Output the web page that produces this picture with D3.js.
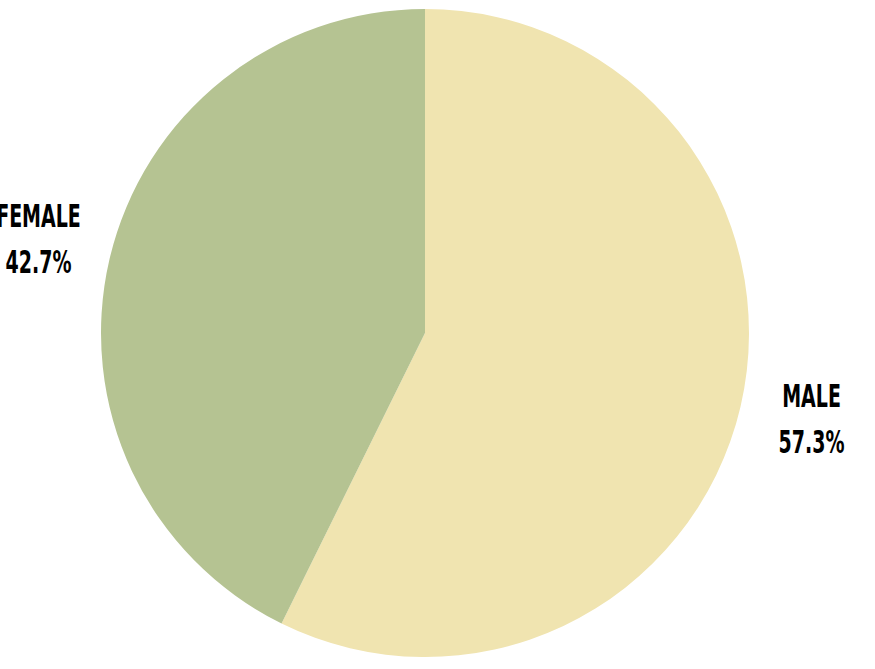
<!DOCTYPE html>
<html>
<head>
<meta charset="utf-8">
<script src="https://cdn.jsdelivr.net/npm/d3@7"></script>
<style>
  body { margin: 0; background: #fff; }
  text { font-family: "Liberation Sans Narrow", "DejaVu Sans Condensed", "Liberation Sans", sans-serif; font-weight: bold; fill: #000; }
</style>
</head>
<body>
<script>
// data
var categories = ["MALE", "FEMALE"];
var shares = [57.3, 42.7];
var colours = ["#f0e4b0", "#b5c392"];

var width = 875, height = 669;
var cx = 425, cy = 333, radius = 324;

var svg = d3.select("body")
    .append("svg")
    .attr("width", width)
    .attr("height", height);

var pie = d3.pie()
    .sort(null)            // keep the order, male first from 12 o'clock
    .value(function(d, i) { return shares[i]; });

var arc = d3.arc()
    .innerRadius(0)
    .outerRadius(radius);

var labelArc = d3.arc()
    .innerRadius(radius * 1.225)
    .outerRadius(radius * 1.225);

var colour = d3.scaleOrdinal()
    .domain(categories)
    .range(colours);

var g = svg.append("g")
    .attr("transform", "translate(" + cx + "," + cy + ")");

var slices = pie(categories);

g.selectAll("path")
    .data(slices)
  .enter().append("path")
    .attr("d", arc)
    .attr("fill", function(d) { return colour(d.data); });

var labels = g.selectAll("g.label")
    .data(slices)
  .enter().append("g")
    .attr("class", "label")
    .attr("transform", function(d) {
      var p = labelArc.centroid(d);
      return "translate(" + p[0] + "," + p[1] + ") scale(0.66,1)";
    });

labels.append("text")
    .attr("text-anchor", "middle")
    .attr("y", -16)
    .style("font-size", "32px")
    .text(function(d) { return d.data; });

labels.append("text")
    .attr("text-anchor", "middle")
    .attr("y", 30)
    .style("font-size", "32px")
    .text(function(d, i) { return shares[i].toFixed(1) + "%"; });
</script>
</body>
</html>
